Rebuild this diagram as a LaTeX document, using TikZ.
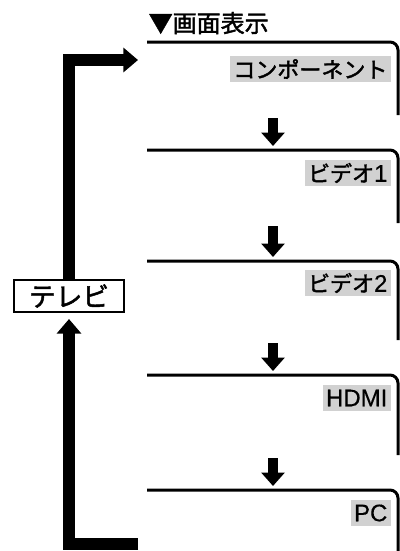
\documentclass[tikz,border=0pt]{standalone}
\usepackage{fontspec}
\setmainfont{Noto Sans CJK JP}[FakeBold=1.8]
\newfontfamily\lat{Liberation Sans}[FakeBold=0.4]
\usetikzlibrary{arrows.meta,positioning}

\begin{document}
\begin{tikzpicture}[x=0.75pt,y=-0.75pt,
  screen/.style={line width=2.25pt,rounded corners=6pt},
  tag/.style={fill=black!18,anchor=east,font=\fontsize{16.5}{16.5}\selectfont,inner xsep=2.5pt,inner ysep=0pt,minimum height=20pt},
  stepdown/.style={line width=7pt,-{Triangle[length=10pt,width=17pt]},shorten <=2.25pt,shorten >=3pt},
  loopline/.style={line width=9pt,-{Triangle[length=11pt,width=18pt]}}
]
\useasboundingbox (0,0) rectangle (400,551);
\node[anchor=west,font=\fontsize{18}{18}\selectfont] (title) at (144,23) {▼画面表示};
% screens, one below the other
\foreach \i/\t/\b/\name/\ly in {1/42/115/コンポーネント/69,2/150/223/ビデオ{\lat\fontsize{18}{18}\selectfont 1}/173,3/261/340/ビデオ{\lat\fontsize{18}{18}\selectfont 2}/283,4/375/455/{\lat\fontsize{18}{18}\selectfont HDMI}/398,5/490/551/{\lat\fontsize{18}{18}\selectfont PC}/513}{
  \draw[screen] (147,\t) -- (398,\t) -- (398,\b);
  \coordinate (in\i) at (273,\t);
  \coordinate (out\i) at (273,\b);
  \node[tag] (tag\i) at (391,\ly) {\name};
}
\foreach \i [count=\j from 2] in {1,...,4}
  \draw[stepdown] (out\i) -- (in\j);
% television and the loop round it
\node[draw,line width=1.5pt,minimum width=82.5pt,minimum height=24pt,inner sep=0pt,font=\fontsize{20}{20}\selectfont] (tv) at (69,296) {テレビ};
\coordinate (feed) at (138,60);
\coordinate (back) at (138,544);
\draw[loopline] (tv.north) |- (feed);
\draw[loopline,shorten >=4.5pt] (back) -| (tv.south);
\end{tikzpicture}
\end{document}
